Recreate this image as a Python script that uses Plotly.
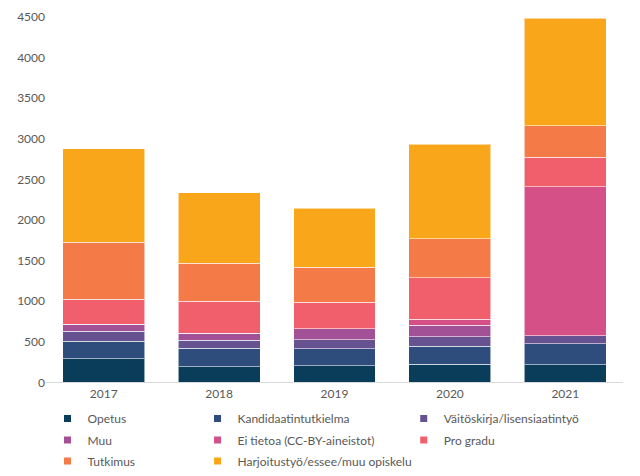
import plotly.graph_objects as go

years = ["2017", "2018", "2019", "2020", "2021"]

opetus = [291, 193, 201, 222, 214]
kandidaatintutkielma = [215, 227, 214, 222, 263]
vaitoskirja = [123, 99, 111, 119, 99]
muu = [86, 86, 136, 138, 0]
ei_tietoa = [0, 0, 0, 77, 1833]
pro_gradu = [309, 395, 326, 510, 366]
tutkimus = [699, 469, 427, 482, 388]
harjoitustyo = [1153, 864, 729, 1161, 1321]

series_names = [
    "Opetus", "Kandidaatintutkielma", "Väitöskirja/lisensiaatintyö", "Muu",
    "Ei tietoa (CC-BY-aineistot)", "Pro gradu", "Tutkimus",
    "Harjoitustyö/essee/muu opiskelu",
]
series_values = [opetus, kandidaatintutkielma, vaitoskirja, muu,
                 ei_tietoa, pro_gradu, tutkimus, harjoitustyo]
colors = ["#0a3d5a", "#2e4d7c", "#665191", "#a25196",
          "#d45087", "#f05f6b", "#f47b48", "#faa61a"]

y_ticks = [0, 500, 1000, 1500, 2000, 2500, 3000, 3500, 4000, 4500]

FONT = "Lato"
TXT = "#595959"

fig = go.Figure()
for name, vals, col in zip(series_names, series_values, colors):
    fig.add_trace(go.Bar(
        x=years, y=vals, name=name, showlegend=False,
        marker=dict(color=col, line=dict(color="rgba(255,255,255,0.55)", width=1)),
    ))

# legend layout: 3 columns, rows of 3 (paper coordinates)
col_x = [0.0026, 0.2626, 0.6200]
row_y = [0.1381, 0.0904, 0.0437]
legend_layouts = {}
for i, (name, col) in enumerate(zip(series_names, colors)):
    lname = "legend" if i == 0 else f"legend{i+1}"
    fig.add_trace(go.Scatter(
        x=[None], y=[None], mode="markers", name=name, showlegend=True,
        marker=dict(symbol="square", size=7, color=col),
        legend=lname,
    ))
    legend_layouts[lname] = dict(
        x=col_x[i % 3], y=row_y[i // 3], xanchor="left", yanchor="top",
        xref="paper", yref="paper",
        orientation="v", bgcolor="rgba(0,0,0,0)",
        font=dict(family=FONT, size=12, color=TXT),
        itemclick=False, itemdoubleclick=False,
    )

fig.update_layout(
    width=640, height=476,
    margin=dict(l=46, r=17, t=17, b=10, autoexpand=False),
    barmode="stack", bargap=0.29,
    plot_bgcolor="white", paper_bgcolor="white",
    font=dict(family=FONT, size=12, color=TXT),
    xaxis=dict(type="category", showgrid=False, showline=True,
               linecolor="#d9d9d9", linewidth=1, ticks="", automargin=False,
               tickfont=dict(family=FONT, size=12, color=TXT)),
    yaxis=dict(range=[0, 4500], tickvals=y_ticks, showgrid=False,
               domain=[0.1864, 1], automargin=False,
               showline=False, zeroline=False, ticks="",
               tickfont=dict(family=FONT, size=12, color=TXT)),
    **legend_layouts,
)

fig.write_html("out.html", config={"displayModeBar": False},
               post_script="document.body.style.margin='0';")
